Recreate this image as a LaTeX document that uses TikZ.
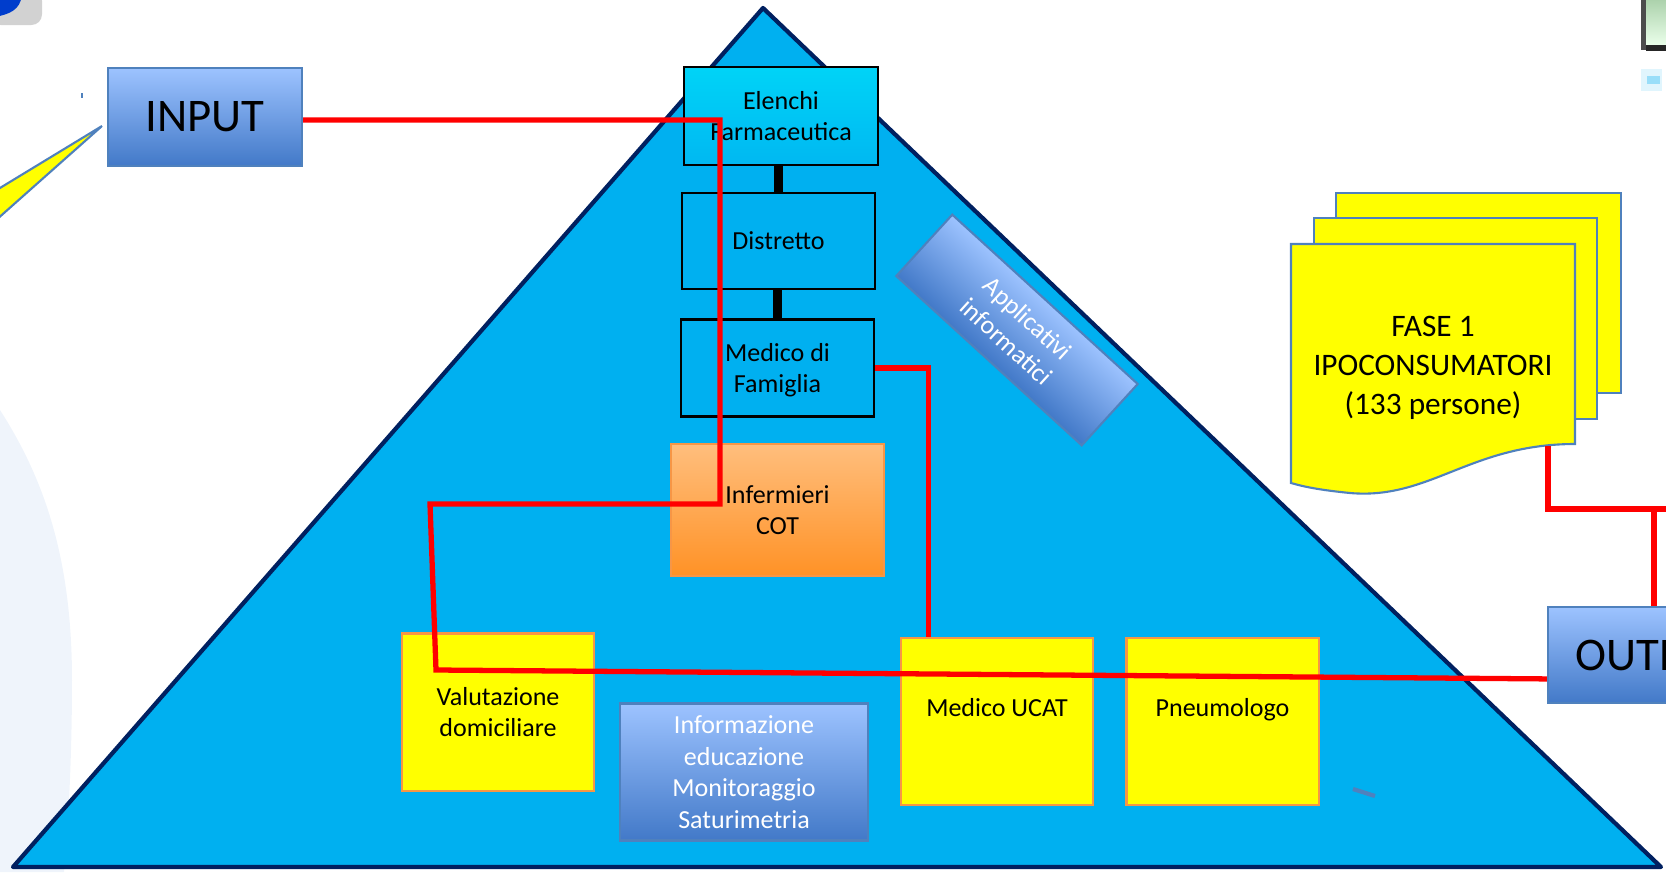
\documentclass[tikz,border=0pt]{standalone}
\usepackage{fontspec}
\setmainfont{Carlito}
\usetikzlibrary{calc}

\definecolor{pyramid}{RGB}{0,176,240}
\definecolor{pyramidline}{RGB}{0,32,96}
\definecolor{boxtop}{RGB}{157,195,255}
\definecolor{boxbottom}{RGB}{66,121,200}
\definecolor{boxline}{RGB}{79,129,189}
\definecolor{orangetop}{RGB}{255,190,125}
\definecolor{orangebottom}{RGB}{255,146,38}
\definecolor{orangeline}{RGB}{247,150,70}
\definecolor{note}{RGB}{255,255,0}
\definecolor{faint}{RGB}{239,244,251}

\begin{document}
\begin{tikzpicture}[x = 0.01cm, y = -0.01cm,
    every node/.style = {inner sep = 0pt, align = center, font = \fontsize{7.4}{9}\selectfont},
    bluebox/.style = {draw = boxline, top color = boxtop, bottom color = boxbottom, line width = 0.6pt},
    plainbox/.style = {draw, line width = 0.7pt, minimum width = 1.93cm},
    notebox/.style = {draw = orangeline, fill = note, line width = 0.6pt, minimum width = 1.92cm},
    bigtext/.style = {font = \fontsize{13.3}{16}\selectfont},
    redline/.style = {draw = red, line width = 1.5pt},
    link/.style = {line width = 2.3pt}]
    \useasboundingbox (0,0) rectangle (1666,872);
    \clip (0,0) rectangle (1666,872);

    \fill[faint] (0,410) .. controls (45,480) and (72,560) .. (72,680)
        .. controls (72,760) and (68,830) .. (64,872) -- (0,872) -- cycle;
    \fill[gray!35, rounded corners = 3pt] (-10,-10) rectangle (42,25);
    \fill[blue!70!cyan!80!black] (-5,-5) -- (22,-5) .. controls (20,10) and (10,14) .. (-5,17) -- cycle;
    \fill[gray!60!black] (1641,0) rectangle (1646,50);
    \shade[top color = green!30!gray!50, bottom color = green!8] (1646,0) rectangle (1666,45);
    \fill[black!85] (1646,45) rectangle (1666,51);
    \fill[cyan!12] (1641,69) rectangle (1662,91);
    \fill[cyan!40] (1647,76) rectangle (1660,84);
    \draw[boxline, line width = 0.4pt] (82,93) -- (82,98);
    \filldraw[fill = note, draw = boxline, line width = 0.6pt] (-5,191) -- (102,126) -- (-5,221) -- cycle;

    \filldraw[fill = pyramid, draw = pyramidline, line width = 1.2pt, line join = round]
        (763,8) -- (1661,867) -- (13,867) -- cycle;

    \node[bluebox, bigtext, minimum width = 1.94cm, minimum height = 0.98cm] (input) at (205,117) {INPUT};
    \node[draw, line width = 0.8pt, top color = cyan!45!pyramid, bottom color = pyramid!90!cyan,
        minimum width = 1.94cm, minimum height = 0.98cm] (elenchi) at (781,116) {Elenchi\\Farmaceutica};
    \node[plainbox, minimum height = 0.96cm] (distretto) at (778.5,241) {Distretto};
    \node[plainbox, minimum height = 0.97cm, text depth = 0pt] (medico) at (777.5,368) {Medico di\\Famiglia};
    \node[draw = orangeline, top color = orangetop, bottom color = orangebottom, line width = 0.6pt,
        minimum width = 2.13cm, minimum height = 1.32cm] (infermieri) at (777.5,510) {Infermieri\\COT};
    \node[notebox, minimum height = 1.57cm] (valutazione) at (498,712) {Valutazione\\domiciliare};
    \node[bluebox, text = white, minimum width = 2.48cm, minimum height = 1.37cm] (informazione)
        at (744,772) {Informazione\\educazione\\Monitoraggio\\Saturimetria};
    \node[notebox, minimum height = 1.67cm, text height = 5pt, text depth = 8pt] (ucat) at (997,721.5) {Medico UCAT};
    \node[notebox, minimum height = 1.67cm, text height = 5pt, text depth = 8pt] (pneumologo) at (1222.5,721.5) {Pneumologo};
    \begin{scope}[transform canvas = {rotate around = {-42.4:(1017,330)}}]
        \node[bluebox, text = white, minimum width = 2.51cm, minimum height = 0.83cm]
            (applicativi) at (1017,330) {Applicativi\\informatici};
    \end{scope}
    \node[bluebox, bigtext, minimum width = 2.16cm, minimum height = 0.96cm] (output) at (1656,655) {OUTPUT};

    \filldraw[fill = note, draw = boxline, line width = 0.6pt] (1336,193) rectangle (1621,393);
    \filldraw[fill = note, draw = boxline, line width = 0.6pt] (1314,218) rectangle (1597,419);
    \filldraw[fill = note, draw = boxline, line width = 0.6pt] (1291,244) -- (1575,244) -- (1575,444)
        .. controls (1470,444) and (1430,500) .. (1350,493)
        .. controls (1320,490) and (1305,487) .. (1291,483) -- cycle;
    \node[font = \fontsize{8.9}{11.1}\selectfont] (fase) at (1433,368) {FASE 1\\IPOCONSUMATORI\\(133 persone)};

    \draw[link] (distretto.north) -- (distretto.north |- elenchi.south);
    \draw[link] (medico.north) -- (medico.north |- distretto.south);

    \coordinate (turn1) at (720,120);
    \coordinate (turn2) at (720,504);
    \coordinate (turn3) at (430,504);
    \coordinate (turn4) at (436,670);
    \coordinate (fasefoot) at (1548,446);
    \coordinate (split) at (1654,509);
    \coordinate (offpage) at (1680,509);
    \draw[redline] (input.east |- turn1) -- (turn1) -- (turn2) -- (turn3) -- (turn4) -- ([yshift = -6.8pt]output.west);
    \draw[redline] (medico.east) -| ([xshift = 8.2pt]ucat.north west);
    \draw[redline] (fasefoot) |- (offpage);
    \draw[redline] (split) -- (split |- output.north);

    \draw[boxline, line width = 1.2pt] (1353,789) -- (1375,796);
\end{tikzpicture}
\end{document}
